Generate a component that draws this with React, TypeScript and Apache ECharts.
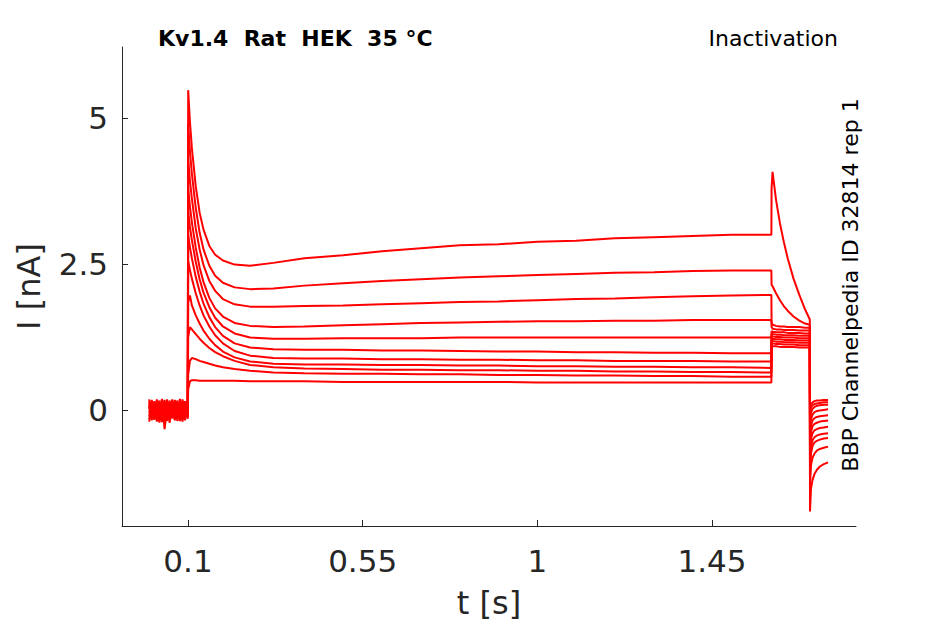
import React, { useEffect, useRef } from "react";
import * as echarts from "echarts";

// ---- time bases (s) ----
const HOLD_T = [0, 0.0066, 0.0132, 0.0198, 0.0264, 0.033, 0.0396, 0.0462, 0.0528, 0.0594, 0.066, 0.0726, 0.0792, 0.0858, 0.0924, 0.0995];
const STEP_T = [0.1005, 0.105, 0.11, 0.12, 0.13, 0.14, 0.155, 0.17, 0.19, 0.22, 0.26, 0.32, 0.4, 0.5, 0.6, 0.7, 0.8, 0.9, 1.0, 1.1, 1.2, 1.3, 1.4, 1.5, 1.603];
const TEST_T = [1.6035, 1.606, 1.615, 1.625, 1.635, 1.645, 1.66, 1.675, 1.69, 1.702];
const TAIL_T = [1.7025, 1.705, 1.709, 1.714, 1.72, 1.728, 1.738, 1.749];

// ---- currents (nA), one row per sweep ----
const HOLD_I = [
  [0.05, -0.12, 0.15, -0.08, 0.02, -0.18, 0.10, -0.05, 0.12, -0.15, 0.04, -0.10, 0.16, -0.06, 0.08, -0.12],
  [-0.10, 0.12, -0.04, 0.18, -0.14, 0.06, -0.20, 0.09, -0.02, 0.14, -0.16, 0.05, -0.08, 0.13, -0.11, 0.03],
  [0.14, -0.06, 0.03, -0.20, 0.11, -0.03, 0.17, -0.13, 0.06, -0.09, 0.15, -0.19, 0.02, -0.04, 0.12, -0.07],
  [-0.16, 0.02, -0.11, 0.09, -0.05, 0.19, -0.33, 0.01, -0.09, 0.07, -0.12, 0.10, -0.15, 0.18, -0.03, 0.06],
  [0.08, -0.18, 0.12, -0.02, 0.16, -0.11, 0.04, -0.16, 0.13, -0.01, 0.09, -0.14, 0.07, -0.20, 0.15, -0.09],
  [-0.05, 0.17, -0.15, 0.06, -0.09, 0.13, -0.02, 0.18, -0.17, 0.10, -0.06, 0.16, -0.12, 0.04, -0.18, 0.11],
  [0.18, -0.09, 0.07, -0.15, 0.14, -0.21, 0.09, -0.03, 0.16, -0.13, 0.02, -0.07, 0.19, -0.10, 0.05, -0.15],
  [-0.20, 0.06, -0.02, 0.13, -0.19, 0.03, -0.12, 0.15, -0.07, 0.11, -0.18, 0.08, -0.01, 0.12, -0.14, 0.17],
  [0.02, 0.15, -0.17, 0.04, -0.07, 0.16, -0.13, 0.06, -0.22, 0.12, 0.01, -0.16, 0.14, -0.05, 0.10, -0.02],
  [-0.12, -0.01, 0.10, -0.17, 0.08, -0.08, 0.14, -0.19, 0.05, -0.04, 0.17, -0.11, 0.03, -0.17, 0.06, 0.13],
  [0.11, -0.14, -0.06, 0.12, -0.22, 0.09, -0.04, 0.11, -0.10, 0.18, -0.08, 0.01, -0.19, 0.09, -0.13, 0.04],
];
const STEP_I = [
  [5.48, 4.94, 4.49, 3.83, 3.38, 3.09, 2.81, 2.66, 2.56, 2.49, 2.47, 2.52, 2.60, 2.65, 2.72, 2.77, 2.82, 2.84, 2.88, 2.90, 2.94, 2.96, 2.98, 3.00, 3.00],
  [4.90, 4.44, 4.05, 3.46, 3.04, 2.75, 2.47, 2.30, 2.18, 2.10, 2.07, 2.08, 2.13, 2.17, 2.21, 2.24, 2.27, 2.29, 2.31, 2.33, 2.35, 2.36, 2.38, 2.39, 2.39],
  [4.30, 3.93, 3.62, 3.11, 2.75, 2.48, 2.21, 2.04, 1.90, 1.81, 1.77, 1.77, 1.78, 1.79, 1.81, 1.83, 1.85, 1.86, 1.88, 1.90, 1.91, 1.93, 1.95, 1.96, 1.97],
  [3.80, 3.49, 3.22, 2.78, 2.44, 2.19, 1.92, 1.74, 1.60, 1.49, 1.44, 1.42, 1.43, 1.45, 1.47, 1.49, 1.50, 1.51, 1.52, 1.52, 1.53, 1.53, 1.54, 1.54, 1.54],
  [3.40, 3.14, 2.91, 2.54, 2.24, 2.01, 1.76, 1.58, 1.43, 1.31, 1.24, 1.22, 1.22, 1.23, 1.23, 1.23, 1.24, 1.24, 1.24, 1.24, 1.24, 1.24, 1.24, 1.24, 1.24],
  [3.00, 2.79, 2.60, 2.28, 2.03, 1.82, 1.59, 1.42, 1.27, 1.14, 1.07, 1.04, 1.03, 1.03, 1.02, 1.02, 1.01, 1.00, 1.00, 0.99, 0.99, 0.98, 0.98, 0.97, 0.97],
  [2.55, 2.40, 2.25, 2.00, 1.79, 1.62, 1.43, 1.28, 1.14, 1.01, 0.93, 0.89, 0.88, 0.88, 0.87, 0.87, 0.86, 0.86, 0.85, 0.85, 0.84, 0.84, 0.84, 0.83, 0.83],
  [1.85, 1.96, 1.79, 1.62, 1.48, 1.36, 1.22, 1.11, 1.00, 0.90, 0.83, 0.79, 0.78, 0.78, 0.77, 0.77, 0.76, 0.76, 0.75, 0.75, 0.74, 0.74, 0.73, 0.73, 0.72],
  [1.25, 1.42, 1.38, 1.30, 1.22, 1.15, 1.06, 0.99, 0.92, 0.84, 0.77, 0.73, 0.71, 0.70, 0.69, 0.69, 0.68, 0.68, 0.67, 0.67, 0.66, 0.66, 0.65, 0.65, 0.64],
  [0.60, 0.84, 0.89, 0.87, 0.84, 0.82, 0.79, 0.76, 0.73, 0.70, 0.67, 0.64, 0.63, 0.62, 0.62, 0.61, 0.61, 0.60, 0.60, 0.59, 0.59, 0.58, 0.58, 0.57, 0.57],
  [0.35, 0.49, 0.51, 0.51, 0.50, 0.50, 0.50, 0.50, 0.50, 0.50, 0.49, 0.49, 0.49, 0.48, 0.48, 0.48, 0.48, 0.48, 0.47, 0.47, 0.47, 0.47, 0.47, 0.47, 0.47],
];
const TEST_I = [
  [3.80, 4.08, 3.60, 3.20, 2.88, 2.60, 2.25, 1.97, 1.72, 1.55],
  [2.14, 2.12, 2.00, 1.88, 1.78, 1.70, 1.60, 1.53, 1.48, 1.46],
  [1.50, 1.46, 1.44, 1.43, 1.43, 1.42, 1.42, 1.42, 1.41, 1.41],
  [1.42, 1.39, 1.38, 1.38, 1.37, 1.37, 1.37, 1.36, 1.36, 1.36],
  [1.35, 1.34, 1.33, 1.33, 1.33, 1.32, 1.32, 1.32, 1.31, 1.31],
  [1.31, 1.30, 1.29, 1.29, 1.28, 1.28, 1.28, 1.27, 1.27, 1.27],
  [1.27, 1.26, 1.25, 1.25, 1.24, 1.24, 1.24, 1.23, 1.23, 1.23],
  [1.23, 1.22, 1.21, 1.21, 1.20, 1.20, 1.20, 1.19, 1.19, 1.19],
  [1.19, 1.18, 1.17, 1.17, 1.16, 1.16, 1.16, 1.15, 1.15, 1.15],
  [1.15, 1.14, 1.13, 1.13, 1.12, 1.12, 1.12, 1.11, 1.11, 1.11],
  [1.10, 1.09, 1.09, 1.08, 1.08, 1.08, 1.08, 1.07, 1.07, 1.07],
];
const TAIL_I = [
  [-1.74, -1.35, -1.20, -1.10, -1.03, -0.97, -0.93, -0.90],
  [-1.30, -0.95, -0.82, -0.75, -0.70, -0.67, -0.65, -0.63],
  [-1.10, -0.75, -0.62, -0.56, -0.53, -0.51, -0.49, -0.48],
  [-0.95, -0.62, -0.52, -0.47, -0.44, -0.42, -0.41, -0.40],
  [-0.80, -0.50, -0.40, -0.35, -0.33, -0.31, -0.30, -0.29],
  [-0.65, -0.38, -0.28, -0.24, -0.22, -0.20, -0.19, -0.18],
  [-0.50, -0.27, -0.18, -0.14, -0.12, -0.11, -0.10, -0.09],
  [-0.35, -0.16, -0.08, -0.04, -0.02, -0.01, 0.00, 0.01],
  [-0.20, -0.05, 0.02, 0.05, 0.07, 0.08, 0.09, 0.09],
  [-0.05, 0.04, 0.08, 0.10, 0.11, 0.12, 0.13, 0.13],
  [0.05, 0.10, 0.13, 0.15, 0.16, 0.16, 0.17, 0.17],
];

const X_TICKS = [0.1, 0.55, 1, 1.45];
const Y_TICKS = [0, 2.5, 5];

const TITLE = "Kv1.4  Rat  HEK  35 °C";
const PROTOCOL = "Inactivation";
const SOURCE = "BBP Channelpedia ID 32814 rep 1";

const AXIS_COLOR = "#262626";
const FONT = "DejaVu Sans";

export default function App() {
  const ref = useRef<HTMLDivElement>(null);

  useEffect(() => {
    if (!ref.current) return;
    const chart = echarts.init(ref.current, null, { renderer: "svg" });

    const pairs = (ts: number[], vs: number[]) => ts.map((t, j) => [t, vs[j]]);
    const series = HOLD_I.map((_, k) => ({
      type: "line",
      showSymbol: false,
      silent: true,
      lineStyle: { color: "#ff0000", width: 2 },
      data: [
        ...pairs(HOLD_T, HOLD_I[k]),
        ...pairs(STEP_T, STEP_I[k]),
        ...pairs(TEST_T, TEST_I[k]),
        ...pairs(TAIL_T, TAIL_I[k]),
      ],
    }));

    chart.setOption({
      animation: false,
      backgroundColor: "#ffffff",
      grid: { left: 122, right: 89, top: 47, bottom: 98, containLabel: false },
      xAxis: {
        type: "value",
        min: -0.07,
        max: 1.821,
        name: "t [s]",
        nameLocation: "middle",
        nameGap: 61,
        nameTextStyle: { fontFamily: FONT, fontSize: 32, color: AXIS_COLOR },
        axisLine: { show: true, onZero: false, lineStyle: { color: AXIS_COLOR, width: 1 } },
        axisTick: { show: true, inside: true, length: 6, customValues: X_TICKS, lineStyle: { color: AXIS_COLOR } },
        axisLabel: { customValues: X_TICKS, fontFamily: FONT, fontSize: 31, color: AXIS_COLOR, margin: 19 },
        splitLine: { show: false },
      },
      yAxis: {
        type: "value",
        min: -1.99,
        max: 6.22,
        name: "I [nA]",
        nameLocation: "middle",
        nameGap: 77,
        nameRotate: 90,
        nameTextStyle: { fontFamily: FONT, fontSize: 32, color: AXIS_COLOR },
        axisLine: { show: true, onZero: false, lineStyle: { color: AXIS_COLOR, width: 1 } },
        axisTick: { show: true, inside: true, length: 6, customValues: Y_TICKS, lineStyle: { color: AXIS_COLOR } },
        axisLabel: { customValues: Y_TICKS, fontFamily: FONT, fontSize: 31, color: AXIS_COLOR, margin: 14 },
        splitLine: { show: false },
      },
      graphic: [
        {
          type: "text",
          left: 158,
          top: 27,
          style: { text: TITLE, fontFamily: FONT, fontSize: 22, fontWeight: "bold", fill: "#000000" },
        },
        {
          type: "text",
          right: 945 - 838,
          top: 27,
          style: { text: PROTOCOL, fontFamily: FONT, fontSize: 22, fill: "#000000" },
        },
        {
          type: "text",
          x: 850,
          y: 285,
          rotation: Math.PI / 2,
          style: {
            text: SOURCE,
            fontFamily: FONT,
            fontSize: 22,
            fill: "#000000",
            align: "center",
            verticalAlign: "middle",
          },
        },
      ],
      series,
    });

    return () => chart.dispose();
  }, []);

  return (
    <div
      ref={ref}
      style={{ position: "fixed", left: 0, top: 0, width: 945, height: 624, background: "#fff" }}
    />
  );
}
